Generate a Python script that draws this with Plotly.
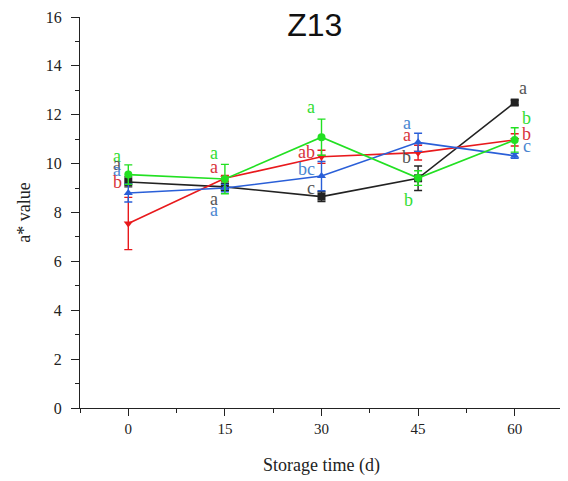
import plotly.graph_objects as go

days = [0, 15, 30, 45, 60]

black_vals = [9.25, 9.05, 8.65, 9.4, 12.5]
black_err = [0.2, 0.15, 0.2, 0.5, 0.1]
red_vals = [7.55, 9.4, 10.28, 10.45, 10.97]
red_err = [1.07, 0.12, 0.27, 0.3, 0.25]
blue_vals = [8.8, 9.0, 9.49, 10.87, 10.32]
blue_err = [0.37, 0.15, 0.6, 0.37, 0.1]
green_vals = [9.55, 9.37, 11.08, 9.41, 10.97]
green_err = [0.4, 0.6, 0.74, 0.3, 0.5]

colors = {"black": "#222222", "red": "#e8191c", "blue": "#2a5fd8", "green": "#22e022"}
text_colors = {"black": "#555555", "red": "#d8333a", "blue": "#4a86d0", "green": "#33dd33"}

# significance letters: (x, y, text, series)
letters = [
    (-1.7, 10.33, "a", "green"), (-1.7, 10.0, "a", "black"), (-1.7, 9.72, "a", "blue"), (-1.7, 9.25, "b", "red"),
    (13.3, 10.45, "a", "green"), (13.3, 9.87, "a", "red"), (13.3, 8.55, "a", "black"), (13.3, 8.1, "a", "blue"),
    (28.4, 12.32, "a", "green"), (27.6, 10.47, "ab", "red"), (27.6, 9.78, "bc", "blue"), (28.4, 9.0, "c", "black"),
    (43.2, 11.66, "a", "blue"), (43.2, 11.17, "a", "red"), (43.2, 10.27, "b", "black"), (43.5, 8.51, "b", "green"),
    (61.3, 13.09, "a", "black"), (61.9, 11.86, "b", "green"), (61.9, 11.21, "b", "red"), (61.9, 10.72, "c", "blue"),
]

series = [
    ("black", black_vals, black_err, "square"),
    ("red", red_vals, red_err, "triangle-down"),
    ("blue", blue_vals, blue_err, "triangle-up"),
    ("green", green_vals, green_err, "circle"),
]

fig = go.Figure()
for name, vals, err, sym in series:
    c = colors[name]
    fig.add_trace(go.Scatter(
        x=days, y=vals, mode="lines+markers",
        line=dict(color=c, width=1.6),
        marker=dict(symbol=sym, size=8, color=c),
        error_y=dict(type="data", array=err, visible=True, color=c, thickness=1.4, width=4),
        showlegend=False,
    ))

for x, y, t, s in letters:
    fig.add_annotation(x=x, y=y, text=t, showarrow=False, xref="x", yref="y",
                       font=dict(family="Liberation Serif", size=18, color=text_colors[s]),
                       xanchor="center", yanchor="middle")

fig.update_layout(
    width=568, height=481,
    margin=dict(l=72, r=13, t=9, b=81),
    paper_bgcolor="white", plot_bgcolor="white",
    title=dict(text="Z13", x=0.540, xanchor="center", y=0.965, yanchor="middle",
               font=dict(family="Liberation Sans", size=32, color="#111111")),
    font=dict(family="Liberation Serif", size=15, color="#222222"),
)
fig.update_xaxes(
    range=[-7.5, 67.5], tickvals=days, showline=True, linecolor="#222222", linewidth=1.3,
    ticks="outside", ticklen=7, tickcolor="#222222", tickwidth=1.2,
    minor=dict(tickvals=[-7.5, 7.5, 22.5, 37.5, 52.5, 67.5], ticks="outside", ticklen=4, tickcolor="#222222"),
    showgrid=False, zeroline=False, tickfont=dict(size=15), automargin=False,
    title=dict(text="Storage time (d)", font=dict(size=18), standoff=22),
)
fig.update_yaxes(
    range=[0, 16], dtick=2, showline=True, linecolor="#222222", linewidth=1.3,
    ticks="outside", ticklen=8, tickcolor="#222222", tickwidth=1.2,
    minor=dict(dtick=1, ticks="outside", ticklen=4, tickcolor="#222222"),
    showgrid=False, zeroline=False, tickfont=dict(size=16), automargin=False,
    ticklabelstandoff=6,
    title=dict(text="a* value", font=dict(size=18), standoff=10),
)

fig.write_html("out.html")
